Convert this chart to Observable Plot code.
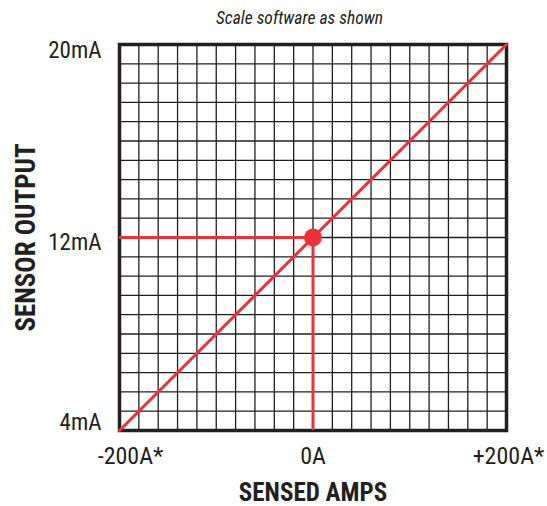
<!DOCTYPE html>
<html>
<head>
<meta charset="utf-8">
<script src="https://cdn.jsdelivr.net/npm/d3@7"></script>
<script src="https://cdn.jsdelivr.net/npm/@observablehq/plot@0.6"></script>
<style>
  body { margin: 0; background: #fff; }
  #title { height: 30px; width: 547px; text-align: center; font-family: "Roboto Condensed", "Liberation Sans Narrow", Roboto, sans-serif; font-style: italic; font-size: 17.5px; color: #231f20; line-height: 36px; padding-left: 52px; box-sizing: border-box; }
  g[aria-label="x-axis label"] text { font-weight: bold; font-size: 25px; }
  g[aria-label="y-axis label"] text { font-weight: bold; font-size: 27px; }
</style>
</head>
<body>
<div id="title">Scale software as shown</div>
<div id="chart"></div>
<script>
const amps = [-200, 200];            // sensed amps
const output = [4, 20];              // sensor output (mA)
const pointAmps = [0];
const pointOutput = [12];
const xTicks = [-200, 0, 200];
const xTickLabels = ["-200A*", "0A", "+200A*"];
const yTicks = [4, 12, 20];
const yTickLabels = ["4mA", "12mA", "20mA"];
const xGrid = d3.range(-200, 201, 20);
const yGrid = d3.range(0, 21).map(i => 4 + i * 0.8);

const line = amps.map((a, i) => ({a, o: output[i]}));
const pt = pointAmps.map((a, i) => ({a, o: pointOutput[i]}));
const red = "#ee3136";
const ink = "#231f20";

// per-label nudges (style only)
const xNudge = [11, 0, 2];
const yNudge = [-8, 5, 6];

const chart = Plot.plot({
  width: 547,
  height: 476,
  marginTop: 14,
  marginBottom: 76,
  marginLeft: 119,
  marginRight: 41,
  style: { fontFamily: "'Roboto Condensed', 'Liberation Sans Narrow', Roboto, sans-serif", fontSize: "22px", color: ink },
  x: { domain: [-200, 200] },
  y: { domain: [4, 20] },
  marks: [
    Plot.ruleX(xGrid, { stroke: ink, strokeWidth: 1.3 }),
    Plot.ruleY(yGrid, { stroke: ink, strokeWidth: 1.3 }),
    Plot.frame({ stroke: ink, strokeWidth: 3.5 }),
    Plot.ruleY(pt, { y: "o", x1: -200, x2: "a", stroke: red, strokeWidth: 3 }),
    Plot.ruleX(pt, { x: "a", y1: 4, y2: "o", stroke: red, strokeWidth: 3 }),
    Plot.line(line, { x: "a", y: "o", stroke: red, strokeWidth: 3 }),
    Plot.dot(pt, { x: "a", y: "o", r: 9, fill: red }),
    ...xTicks.map((t, i) => Plot.axisX({ ticks: [t], tickFormat: () => xTickLabels[i], tickSize: 0, tickPadding: 16, dx: xNudge[i], fontSize: 24, label: null })),
    ...yTicks.map((t, i) => Plot.axisY({ ticks: [t], tickFormat: () => yTickLabels[i], tickSize: 0, tickPadding: 18, dy: yNudge[i], fontSize: 23, label: null })),
    Plot.axisX({ ticks: [], label: "SENSED AMPS", labelAnchor: "center", labelArrow: "none", labelOffset: 70 }),
    Plot.axisY({ ticks: [], label: "SENSOR OUTPUT", labelAnchor: "center", labelArrow: "none", labelOffset: 104 })
  ]
});
document.getElementById("chart").appendChild(chart);
</script>
</body>
</html>
